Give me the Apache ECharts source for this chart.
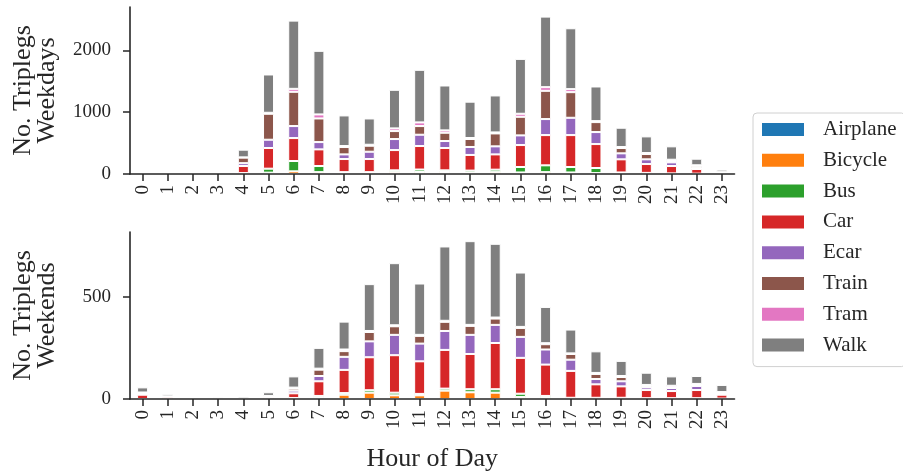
<!DOCTYPE html>
<html>
<head>
<meta charset="utf-8">
<script src="https://cdn.jsdelivr.net/npm/echarts@6/dist/echarts.min.js"></script>
<style>html,body{margin:0;padding:0;background:#fff;}#c{width:903px;height:473px;}</style>
</head>
<body>
<div id="c"></div>
<script>
const hours = ['0','1','2','3','4','5','6','7','8','9','10','11','12','13','14','15','16','17','18','19','20','21','22','23'];
const modes = ['Airplane','Bicycle','Bus','Car','Ecar','Train','Tram','Walk'];
const colors = ['#1f77b4','#ff7f0e','#2ca02c','#d62728','#9467bd','#8c564b','#e377c2','#7f7f7f'];

// Weekdays
const wdAirplane = [0,0,0,0,0,0,0,0,0,0,0,0,0,0,0,0,0,0,0,0,0,0,0,0];
const wdBicycle  = [0,0,0,0,5,22,43,30,15,20,30,32,32,25,30,25,30,25,15,10,8,5,3,0];
const wdBus      = [0,0,0,0,10,64,167,99,15,10,29,40,27,30,40,88,110,88,82,15,10,5,3,0];
const wdCar      = [5,0,0,1,114,334,371,269,212,212,328,380,361,253,247,355,489,516,387,212,143,119,75,10];
const wdEcar     = [0,0,0,0,46,134,194,118,75,118,178,183,113,129,130,156,259,280,194,97,76,59,15,5];
const wdTrain    = [0,0,0,0,89,420,554,382,119,97,129,140,134,129,209,301,457,414,161,86,86,22,30,10];
const wdTram     = [0,0,0,0,5,16,48,65,16,16,43,59,38,16,16,49,59,49,16,16,16,21,15,5];
const wdWalk     = [10,3,0,2,124,619,1103,1028,495,425,624,850,726,587,598,887,1141,984,560,312,269,216,106,40];

// Weekends
const weAirplane = [0,0,0,0,0,0,0,0,0,0,0,0,0,0,0,0,0,0,0,0,0,0,0,0];
const weBicycle  = [0,0,0,0,0,0,3,5,21,31,18,18,41,33,31,10,5,3,3,3,2,2,2,2];
const weBus      = [0,0,0,0,0,0,2,10,8,12,13,7,10,15,17,16,10,3,3,3,2,2,2,0];
const weCar      = [21,11,1,2,3,8,23,72,114,162,184,160,190,173,227,176,154,132,66,56,40,35,40,19];
const weEcar     = [4,0,0,0,0,3,13,26,64,78,100,87,93,94,89,103,74,55,26,25,13,15,20,5];
const weTrain    = [4,0,0,0,0,3,10,31,28,46,42,38,45,44,31,44,26,28,25,21,6,3,5,4];
const weTram     = [3,2,0,0,0,1,5,5,8,5,5,5,5,5,5,5,5,3,5,5,6,8,5,4];
const weWalk     = [25,10,4,6,9,18,55,102,137,230,305,252,365,411,362,267,178,117,106,74,60,46,39,35];

const wdTicks = [0, 1000, 2000];
const weTicks = [0, 500];

const wd = [wdAirplane, wdBicycle, wdBus, wdCar, wdEcar, wdTrain, wdTram, wdWalk];
const we = [weAirplane, weBicycle, weBus, weCar, weEcar, weTrain, weTram, weWalk];

const FONT = 'Liberation Serif';
const TXT = '#262626';
const axisLineStyle = { color: TXT, width: 1.6 };

function xAxis(idx) {
  return {
    type: 'category', gridIndex: idx, data: hours, z: 10,
    axisLine: { lineStyle: axisLineStyle },
    axisTick: { show: true, alignWithLabel: true, interval: 0, length: 7, lineStyle: { color: TXT, width: 1.5 } },
    axisLabel: { interval: 0, rotate: 90, margin: 11, fontFamily: FONT, fontSize: 19, color: TXT },
    name: idx === 1 ? 'Hour of Day' : '',
    nameLocation: 'middle', nameGap: 47,
    nameTextStyle: { fontFamily: FONT, fontSize: 26, color: TXT }
  };
}
function yAxis(idx, max, ticks, label) {
  return {
    type: 'value', gridIndex: idx, min: 0, max: max, z: 10,
    axisLine: { show: true, lineStyle: axisLineStyle },
    axisTick: { show: true, length: 7, customValues: ticks, lineStyle: { color: TXT, width: 1.5 } },
    axisLabel: { customValues: ticks, margin: 19, fontFamily: FONT, fontSize: 19, color: TXT,
                 formatter: v => String(v) },
    splitLine: { show: false },
    name: 'No. Triplegs\n' + label,
    nameLocation: 'middle', nameGap: 71,
    nameTextStyle: { fontFamily: FONT, fontSize: 26, lineHeight: 24, color: TXT }
  };
}

const series = [];
[wd, we].forEach((set, gi) => {
  set.forEach((vals, i) => {
    series.push({
      name: modes[i], type: 'bar', stack: 'g' + gi,
      xAxisIndex: gi, yAxisIndex: gi,
      data: vals, barWidth: 11,
      itemStyle: { color: colors[i], borderColor: '#ffffff', borderWidth: 1 },
      emphasis: { disabled: true }
    });
  });
});

const chart = echarts.init(document.getElementById('c'), null, { renderer: 'canvas' });
chart.setOption({
  animation: false,
  backgroundColor: '#ffffff',
  color: colors,
  grid: [
    { left: 130, right: 168.5, top: 7, height: 167 },
    { left: 130, right: 168.5, top: 232, height: 167 }
  ],
  xAxis: [xAxis(0), xAxis(1)],
  yAxis: [yAxis(0, 2700, wdTicks, 'Weekdays'), yAxis(1, 820, weTicks, 'Weekends')],
  legend: {
    orient: 'vertical', left: 753, top: 113,
    data: modes,
    icon: 'rect', itemWidth: 42, itemHeight: 13, itemGap: 9.8,
    padding: [6, 9, 11, 9],
    borderColor: '#d0d0d0', borderWidth: 1, borderRadius: 4,
    backgroundColor: '#ffffff',
    textStyle: { fontFamily: FONT, fontSize: 21, lineHeight: 20, color: TXT, padding: [0, 0, 0, 14] },
    itemStyle: { borderWidth: 0 }
  },
  series: series
});
</script>
</body>
</html>
